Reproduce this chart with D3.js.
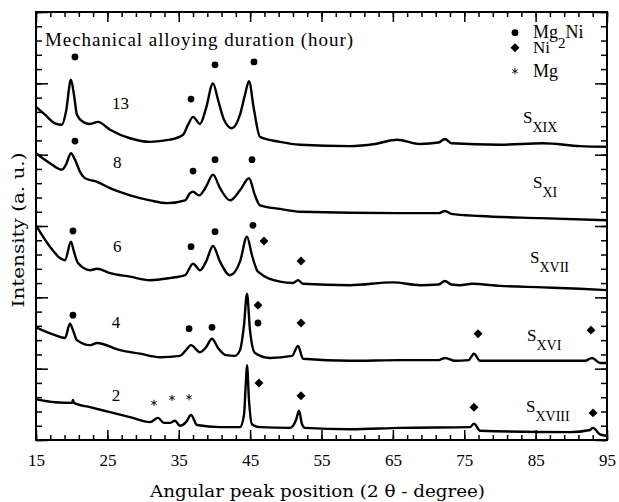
<!DOCTYPE html>
<html>
<head>
<meta charset="utf-8">
<script src="https://cdn.jsdelivr.net/npm/d3@7/dist/d3.min.js"></script>
<style>
  body { margin: 0; background: #fff; }
</style>
</head>
<body>
<script>
// diffraction traces, [2theta in degrees, intensity in a.u. incl. offset]
var sXIX = [[15,4.67],[16.26,4.56],[17.66,4.44],[18.64,4.42],[19.2,4.6],[19.9,5.05],[20.32,4.84],[20.74,4.56],
  [21.58,4.46],[22.57,4.43],[23.69,4.46],[25.37,4.35],[28.17,4.23],[30.97,4.18],[33.77,4.21],[35.6,4.28],
  [36.3,4.42],[37.0,4.53],[37.98,4.43],[38.82,4.65],[39.8,5.0],[40.5,4.77],[41.34,4.49],[42.46,4.37],
  [43.58,4.56],[44.28,4.84],[44.84,5.03],[45.54,4.63],[46.38,4.25],[49.19,4.18],[51.99,4.14],[58.99,4.12],
  [62.5,4.15],[65.58,4.21],[68.8,4.15],[71.4,4.17],[72.3,4.22],[73.2,4.16],[80,4.14],[86.03,4.16],[91.22,4.12],[95,4.11]];

var sXI = [[15,4.02],[16.96,3.88],[18.64,3.79],[19.2,3.86],[19.9,4.02],[20.46,3.93],[21.16,3.76],[21.87,3.67],
  [23.55,3.62],[25.37,3.53],[28.17,3.43],[30.97,3.36],[33.35,3.32],[35.88,3.36],[36.58,3.46],[37.0,3.48],
  [37.84,3.43],[38.82,3.55],[39.8,3.72],[40.78,3.53],[42.18,3.36],[43.58,3.5],[44.84,3.67],[45.68,3.43],
  [46.38,3.29],[49.19,3.24],[51.99,3.2],[66,3.18],[71.4,3.18],[72.3,3.21],[73.2,3.17],[77.21,3.14],[85.61,3.11],[95,3.08]];

var sXVII = [[15,3.01],[16.96,2.71],[18.36,2.55],[19.06,2.52],[19.9,2.78],[20.32,2.64],[20.88,2.48],[22.57,2.38],
  [23.55,2.4],[25.37,2.34],[28.17,2.29],[30.97,2.24],[33.77,2.27],[35.88,2.31],[37.0,2.47],[37.98,2.38],
  [38.82,2.5],[39.8,2.72],[40.78,2.5],[42.18,2.31],[43.58,2.5],[44.56,2.85],[45.26,2.59],[46.1,2.36],
  [49.19,2.22],[51.01,2.2],[51.71,2.24],[52.41,2.19],[58.99,2.17],[65.02,2.21],[68.8,2.17],[71.4,2.18],[72.3,2.23],
  [73.2,2.18],[74.4,2.17],[76.08,2.19],[80,2.16],[86.03,2.14],[91.22,2.12],[95,2.1]];

var sXVI = [[15,1.58],[17.66,1.47],[19.06,1.43],[19.76,1.63],[20.18,1.54],[20.74,1.4],[22.57,1.33],[23.55,1.36],
  [26.77,1.26],[29.57,1.21],[32.37,1.16],[35.17,1.18],[36.02,1.26],[36.72,1.33],[37.98,1.23],[38.82,1.3],
  [39.66,1.42],[40.5,1.29],[41.62,1.19],[42.88,1.18],[43.58,1.26],[44.14,1.61],[44.56,2.05],[44.98,1.54],
  [45.68,1.22],[47.78,1.15],[50.87,1.18],[51.71,1.32],[52.41,1.14],[58.99,1.11],[66,1.12],[71.4,1.12],[72.3,1.15],
  [73.7,1.11],[75.6,1.12],[76.36,1.21],[77.21,1.11],[85.61,1.11],[91.92,1.11],[92.9,1.15],[94.02,1.08],[95,1.08]];

var sXVIII = [[15,0.57],[17.66,0.53],[20.04,0.52],[20.18,0.56],[20.32,0.52],[22.57,0.46],[25.37,0.39],[28.17,0.32],
  [30.97,0.25],[32.09,0.31],[32.93,0.24],[33.77,0.24],[34.47,0.27],[35.17,0.2],[36.02,0.25],[36.72,0.35],
  [37.56,0.21],[40.78,0.18],[43.58,0.18],[44.14,0.35],[44.42,0.84],[44.56,1.05],[44.84,0.56],[45.26,0.22],
  [46.38,0.18],[50.59,0.17],[51.43,0.28],[51.85,0.41],[52.27,0.22],[52.69,0.17],[58.99,0.15],[66,0.17],
  [75.8,0.18],[76.36,0.23],[77.21,0.13],[89.82,0.11],[92.62,0.14],[93.04,0.17],[94.02,0.08],[95,0.06]];

var hours = ['13', '8', '6', '4', '2'];
var sampleNames = ['XIX', 'XI', 'XVII', 'XVI', 'XVIII'];

// phase markers [2theta, height]
var mg2niMarks = [[20.46,5.37],[36.72,4.78],[40.08,5.26],[45.54,5.3],
  [20.46,4.19],[37.0,3.77],[40.08,3.93],[45.26,3.93],
  [20.18,2.93],[36.72,2.71],[40.08,2.92],[45.4,3.01],
  [20.18,1.75],[36.44,1.56],[39.66,1.58],[46.1,1.64]];
var niMarks = [[46.94,2.79],[52.13,2.51],
  [46.1,1.89],[52.13,1.64],[76.93,1.49],[92.76,1.54],
  [46.24,0.8],[52.13,0.62],[76.36,0.46],[93.04,0.38]];
var mgMarks = [[31.53,0.52],[34.05,0.59],[36.44,0.6]];

var xTicks = [15, 25, 35, 45, 55, 65, 75, 85, 95];

var traces = [sXIX, sXI, sXVII, sXVI, sXVIII];

var width = 619,
    height = 502,
    plotLeft = 36, plotRight = 607, plotTop = 12, plotBottom = 440,
    times = '"Liberation Serif", "Times New Roman", Times, serif',
    school = '"DejaVu Serif", "Liberation Serif", serif';

var x = d3.scaleLinear().domain([15, 95]).range([plotLeft, plotRight]);
var y = d3.scaleLinear().domain([0, 6]).range([plotBottom, plotTop]);

var svg = d3.select('body')
  .append('svg')
    .attr('width', width)
    .attr('height', height)
    .style('font-family', times);

var minorX = d3.range(15, 95.1, 2),
    minorY = d3.range(0, 6.01, 0.2),
    majorY = d3.range(0, 6.01, 1);

function styleAxis(g) {
  g.select('.domain').remove();
  g.attr('font-family', null);
  g.selectAll('line').attr('stroke', '#000').attr('stroke-width', 1.5);
}

// bottom: minor + major (with labels)
svg.append('g').attr('transform', 'translate(0,' + plotBottom + ')')
  .call(d3.axisBottom(x).tickValues(minorX).tickSize(-5).tickFormat(''))
  .call(styleAxis);
svg.append('g').attr('transform', 'translate(0,' + plotBottom + ')')
  .call(d3.axisBottom(x).tickValues(xTicks).tickSize(-10).tickPadding(14))
  .call(styleAxis)
  .selectAll('text')
    .style('font-family', times)
    .style('font-size', '17px')
    .attr('fill', '#000');

// top
svg.append('g').attr('transform', 'translate(0,' + plotTop + ')')
  .call(d3.axisTop(x).tickValues(minorX).tickSize(-5).tickFormat(''))
  .call(styleAxis);
svg.append('g').attr('transform', 'translate(0,' + plotTop + ')')
  .call(d3.axisTop(x).tickValues(xTicks).tickSize(-10).tickFormat(''))
  .call(styleAxis);

// left / right, no labels
[[d3.axisLeft, plotLeft], [d3.axisRight, plotRight]].forEach(function(a) {
  svg.append('g').attr('transform', 'translate(' + a[1] + ',0)')
    .call(a[0](y).tickValues(minorY).tickSize(-6).tickFormat(''))
    .call(styleAxis);
  svg.append('g').attr('transform', 'translate(' + a[1] + ',0)')
    .call(a[0](y).tickValues(majorY).tickSize(-12).tickFormat(''))
    .call(styleAxis);
});

svg.append('rect')
  .attr('x', plotLeft).attr('y', plotTop)
  .attr('width', plotRight - plotLeft).attr('height', plotBottom - plotTop)
  .attr('fill', 'none').attr('stroke', '#000').attr('stroke-width', 2);

var line = d3.line()
  .x(function(d) { return x(d[0]); })
  .y(function(d) { return y(d[1]); })
  .curve(d3.curveMonotoneX);

svg.append('g')
  .selectAll('path')
    .data(traces)
    .enter()
  .append('path')
    .attr('d', line)
    .attr('fill', 'none')
    .attr('stroke', '#000')
    .attr('stroke-width', 2.4)
    .attr('stroke-linejoin', 'round');

// markers
svg.append('g')
  .selectAll('circle')
    .data(mg2niMarks)
    .enter()
  .append('circle')
    .attr('cx', function(d) { return x(d[0]); })
    .attr('cy', function(d) { return y(d[1]); })
    .attr('r', 3.4);

var diamond = d3.symbol().type(d3.symbolSquare).size(40);
svg.append('g')
  .selectAll('path')
    .data(niMarks)
    .enter()
  .append('path')
    .attr('d', diamond)
    .attr('transform', function(d) {
      return 'translate(' + x(d[0]) + ',' + y(d[1]) + ') rotate(45)';
    });

var star = d3.symbol().type(d3.symbolAsterisk || d3.symbolCross).size(28);
svg.append('g')
  .selectAll('path')
    .data(mgMarks)
    .enter()
  .append('path')
    .attr('d', star)
    .attr('fill', 'none')
    .attr('stroke', '#000')
    .attr('stroke-width', 0.9)
    .attr('transform', function(d) {
      return 'translate(' + x(d[0]) + ',' + y(d[1]) + ')';
    });

// hour labels and sample names
var hourAt = [[25.65, 4.64], [25.8, 3.81], [25.8, 2.64], [25.6, 1.57], [25.6, 0.55]];
svg.append('g')
  .selectAll('text')
    .data(hours)
    .enter()
  .append('text')
    .attr('x', function(d, i) { return x(hourAt[i][0]); })
    .attr('y', function(d, i) { return y(hourAt[i][1]); })
    .style('font-size', '17px')
    .text(function(d) { return d; });

var nameAt = [[83.23, 4.44], [84.63, 3.53], [84.21, 2.48], [83.79, 1.39], [83.65, 0.39]];
var names = svg.append('g')
  .selectAll('text')
    .data(sampleNames)
    .enter()
  .append('text')
    .attr('x', function(d, i) { return x(nameAt[i][0]); })
    .attr('y', function(d, i) { return y(nameAt[i][1]); })
    .style('font-size', '17px');
names.append('tspan').text('S');
names.append('tspan')
  .attr('dy', 9)
  .style('font-size', '14px')
  .text(function(d) { return d; });

svg.append('text')
  .attr('x', x(16.26)).attr('y', y(5.52))
  .style('font-size', '19px')
  .attr('textLength', 308).attr('lengthAdjust', 'spacing')
  .text('Mechanical alloying duration (hour)');

// legend
var lx = x(82.11), tx = x(84.63);
svg.append('circle').attr('cx', lx).attr('cy', y(5.71)).attr('r', 3.4);
svg.append('path').attr('d', diamond)
  .attr('transform', 'translate(' + lx + ',' + y(5.5) + ') rotate(45)');
svg.append('path').attr('d', star)
  .attr('fill', 'none').attr('stroke', '#000').attr('stroke-width', 0.9)
  .attr('transform', 'translate(' + lx + ',' + y(5.17) + ')');

var lg = svg.append('text').attr('x', tx).attr('y', y(5.64)).style('font-size', '18px');
lg.append('tspan').text('Mg');
lg.append('tspan').attr('dy', 10).style('font-size', '15px').text('2');
lg.append('tspan').attr('dy', -10).text('Ni');
svg.append('text').attr('x', tx).attr('y', y(5.42)).style('font-size', '17px').text('Ni');
svg.append('text').attr('x', tx).attr('y', y(5.09)).style('font-size', '18px').text('Mg');

// axis titles
svg.append('text')
  .attr('transform', 'translate(24,' + 230 + ') rotate(-90)')
  .attr('text-anchor', 'middle')
  .style('font-family', school)
  .style('font-size', '16px')
  .attr('textLength', 155).attr('lengthAdjust', 'spacingAndGlyphs')
  .text('Intensity (a. u.)');

svg.append('text')
  .attr('x', 150).attr('y', 497)
  .style('font-family', school)
  .style('font-size', '16px')
  .attr('textLength', 335).attr('lengthAdjust', 'spacingAndGlyphs')
  .text('Angular peak position (2 θ - degree)');
</script>
</body>
</html>
